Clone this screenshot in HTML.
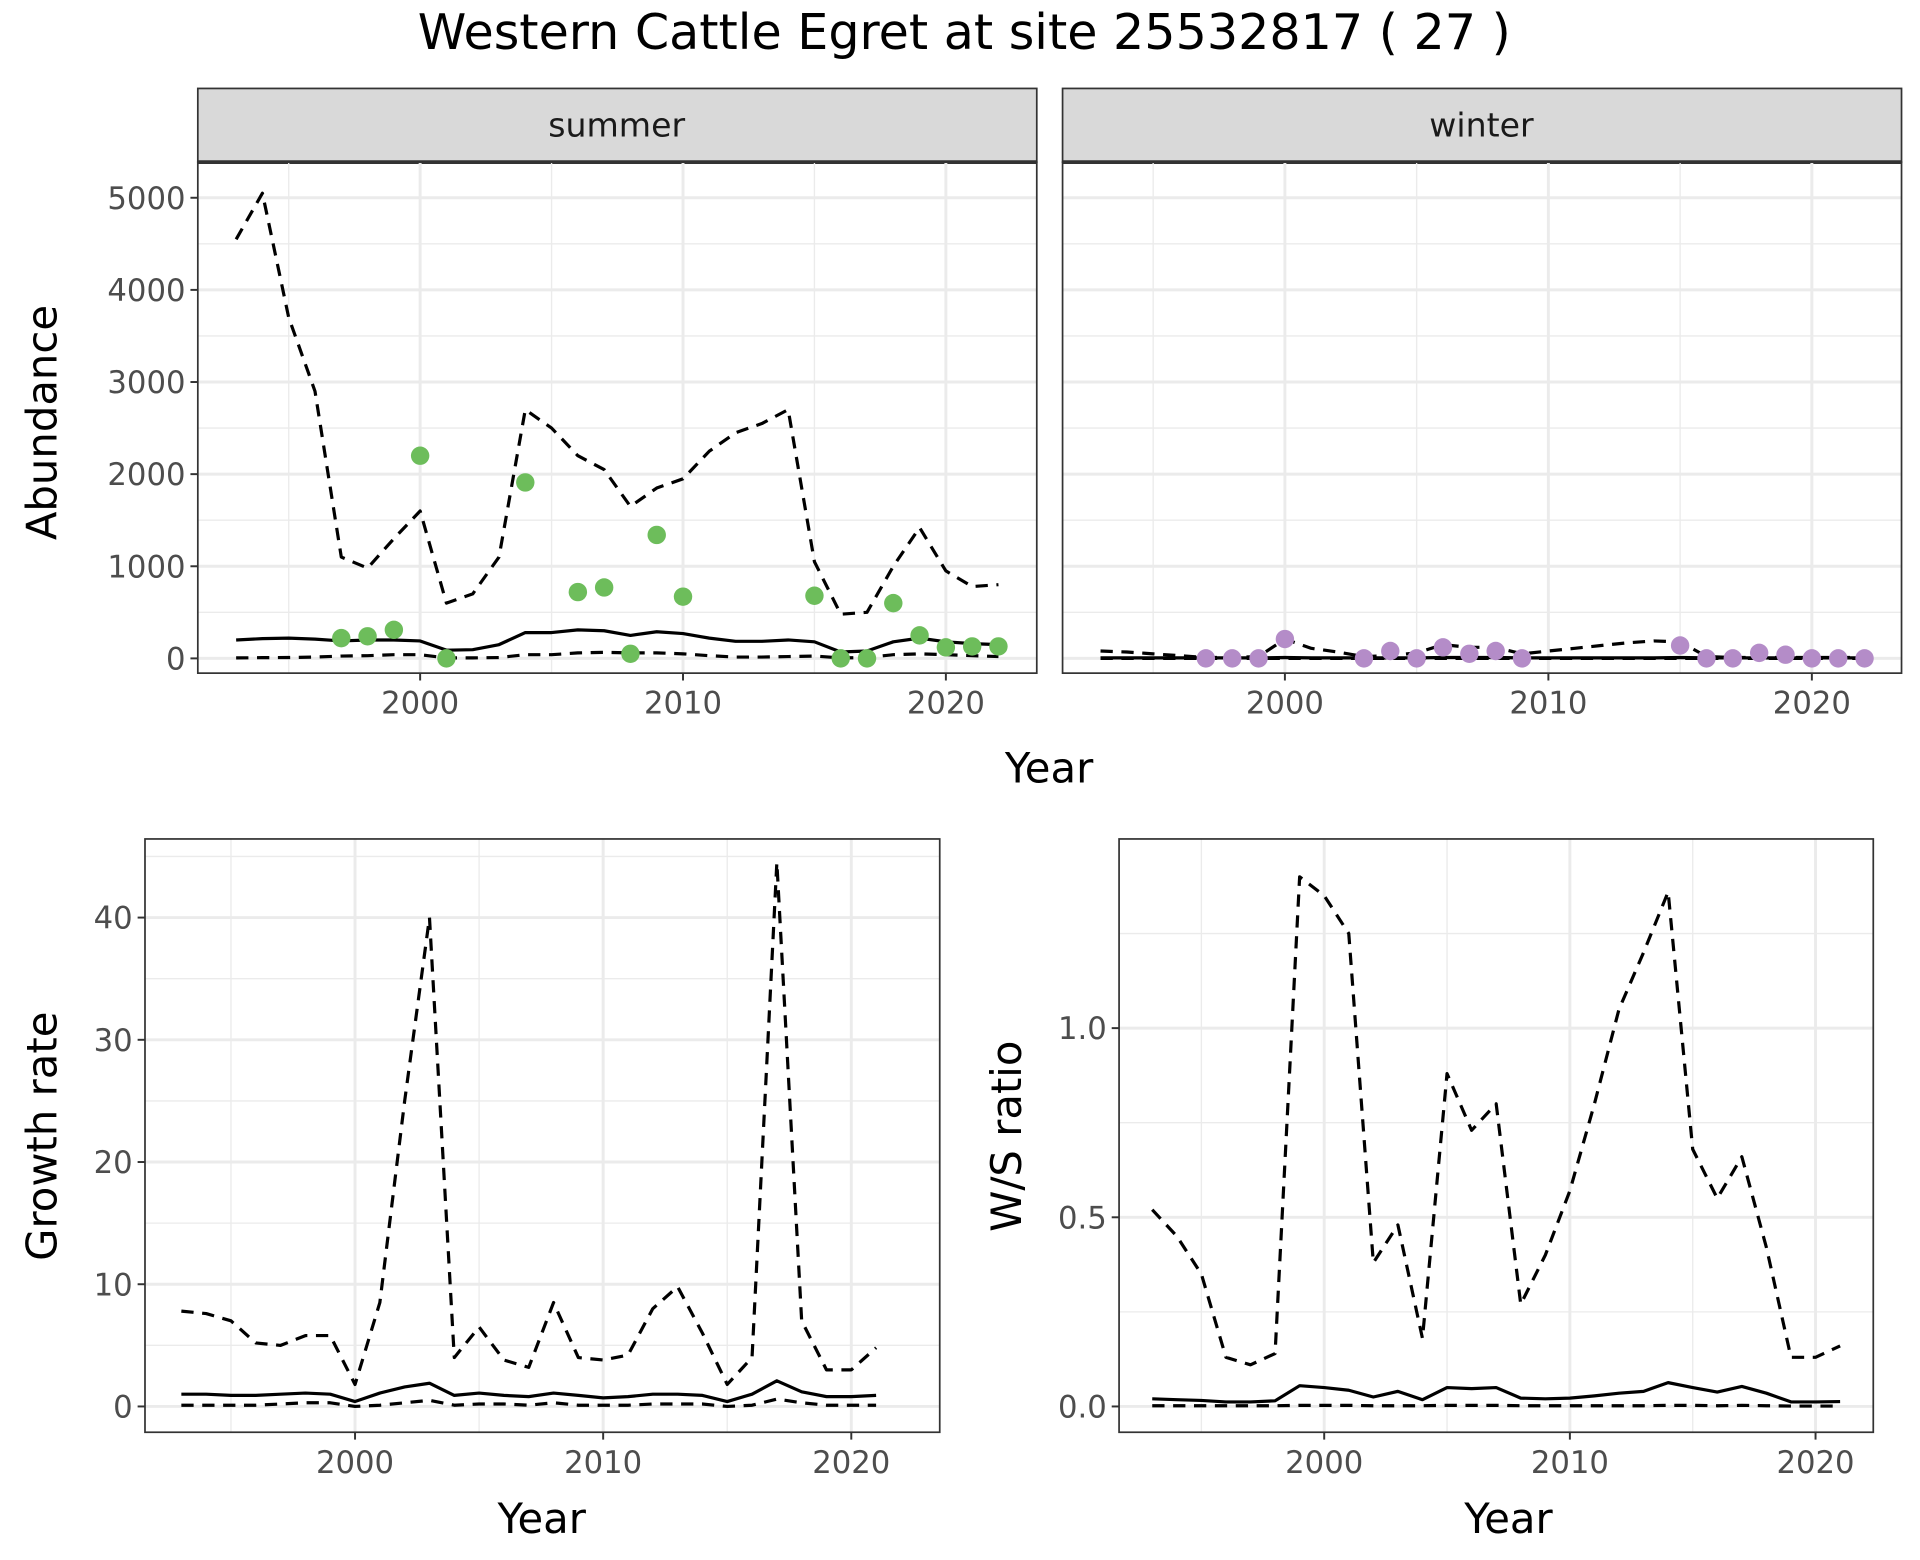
<!DOCTYPE html>
<html><head><meta charset="utf-8"><style>
html,body{margin:0;padding:0;background:#fff}
svg{display:block}
text{font-family:"DejaVu Sans","Liberation Sans",sans-serif}
</style></head><body>
<svg id="c" width="1920" height="1560" viewBox="0 0 1563 1270" xmlns="http://www.w3.org/2000/svg">
<text x="785" y="40" font-size="40" text-anchor="middle">Western Cattle Egret at site 25532817 ( 27 )</text>
<g id="g"></g>
</svg>
<script>
const yearsA = [1993,1994,1995,1996,1997,1998,1999,2000,2001,2002,2003,2004,2005,2006,2007,2008,2009,2010,2011,2012,2013,2014,2015,2016,2017,2018,2019,2020,2021,2022];
const sumUpper = [4550,5050,3700,2900,1100,980,1300,1600,600,700,1100,2700,2500,2200,2050,1650,1850,1950,2250,2450,2550,2700,1050,480,500,1000,1420,950,780,800];
const sumMid = [200,215,220,210,190,200,200,190,90,95,150,280,280,310,300,250,290,270,220,185,185,200,180,70,80,180,220,180,160,150];
const sumLower = [5,8,10,15,25,30,40,40,5,5,10,40,40,60,65,60,60,50,30,15,15,20,25,5,10,40,50,40,30,20];
const sumPtYears = [1997,1998,1999,2000,2001,2004,2006,2007,2008,2009,2010,2015,2016,2017,2018,2019,2020,2021,2022];
const sumPts = [220,240,310,2200,0,1910,720,770,50,1340,670,680,0,0,600,250,120,130,130];
const winUpper = [80,70,50,30,10,10,20,210,110,70,20,30,60,150,120,120,50,80,110,140,170,190,180,20,10,10,10,10,10,10];
const winMid = [5,5,5,5,5,5,5,10,5,5,5,5,5,10,10,10,5,5,5,5,5,5,10,5,5,5,5,5,5,5];
const winLower = [0,0,0,0,0,0,0,0,0,0,0,0,0,0,0,0,0,0,0,0,0,0,0,0,0,0,0,0,0,0];
const winPtYears = [1997,1998,1999,2000,2003,2004,2005,2006,2007,2008,2009,2015,2016,2017,2018,2019,2020,2021,2022];
const winPts = [0,0,0,210,0,80,0,120,50,80,0,140,0,0,60,40,0,0,0];
const yearsB = [1993,1994,1995,1996,1997,1998,1999,2000,2001,2002,2003,2004,2005,2006,2007,2008,2009,2010,2011,2012,2013,2014,2015,2016,2017,2018,2019,2020,2021];
const grUpper = [7.8,7.6,7.0,5.2,5.0,5.8,5.8,1.8,8.5,25,40,4,6.5,3.8,3.2,8.5,4,3.8,4.2,8,9.8,6,1.8,4,44.5,7,3,3,4.8];
const grMid = [1.0,1.0,0.9,0.9,1.0,1.1,1.0,0.4,1.1,1.6,1.9,0.9,1.1,0.9,0.8,1.1,0.9,0.7,0.8,1.0,1.0,0.9,0.4,1.0,2.1,1.2,0.8,0.8,0.9];
const grLower = [0.1,0.1,0.1,0.1,0.2,0.3,0.3,0,0.1,0.3,0.5,0.1,0.2,0.2,0.1,0.3,0.1,0.1,0.1,0.2,0.2,0.2,0,0.1,0.6,0.3,0.1,0.1,0.1];
const wsUpper = [0.52,0.45,0.35,0.13,0.11,0.14,1.40,1.35,1.25,0.38,0.48,0.18,0.88,0.73,0.80,0.27,0.40,0.57,0.80,1.05,1.20,1.36,0.68,0.55,0.66,0.42,0.13,0.13,0.16];
const wsMid = [0.02,0.018,0.016,0.012,0.012,0.015,0.055,0.05,0.043,0.025,0.04,0.018,0.05,0.047,0.05,0.022,0.02,0.022,0.028,0.035,0.04,0.063,0.05,0.038,0.053,0.035,0.012,0.012,0.013];
const wsLower = [0.002,0.002,0.002,0.002,0.002,0.002,0.003,0.003,0.003,0.002,0.002,0.002,0.003,0.003,0.003,0.002,0.002,0.002,0.002,0.002,0.002,0.003,0.003,0.002,0.003,0.002,0.001,0.001,0.001];
const xTicks = [2000,2010,2020];
const xMinor = [1995,2005,2015];
const abTicks = [0,1000,2000,3000,4000,5000];
const abMinor = [500,1500,2500,3500,4500];
const grTicks = [0,10,20,30,40];
const grMinor = [5,15,25,35,45];
const wsTicks = [0,0.5,1.0];
const wsTickLabels = ["0.0","0.5","1.0"];
const wsMinor = [0.25,0.75,1.25];

const NS="http://www.w3.org/2000/svg";
const G=document.getElementById('g');
function el(tag,attrs,parent){const e=document.createElementNS(NS,tag);for(const k in attrs)e.setAttribute(k,attrs[k]);(parent||G).appendChild(e);return e;}
function txt(s,attrs,parent){const e=el('text',attrs,parent);e.textContent=s;return e;}

function panel(o){
  const {x0,x1,y0,y1,xs,ys,name}=o;
  const grp=el('g',{});
  
  
  o.yMinor.forEach(v=>{const l=el('line',{x1:x0,x2:x1,y1:ys(v),y2:ys(v),stroke:'#ebebeb','stroke-width':1.1},grp);});
  xMinor.forEach(v=>{const l=el('line',{x1:xs(v),x2:xs(v),y1:y0,y2:y1,stroke:'#ebebeb','stroke-width':1.1},grp);});
  o.yTicks.forEach(v=>{const l=el('line',{x1:x0,x2:x1,y1:ys(v),y2:ys(v),stroke:'#ebebeb','stroke-width':2.4},grp);});
  xTicks.forEach(v=>{const l=el('line',{x1:xs(v),x2:xs(v),y1:y0,y2:y1,stroke:'#ebebeb','stroke-width':2.4},grp);});
  o.series.forEach(s=>{
    const d=s.vals.map((v,i)=>(i?'L':'M')+xs(s.years[i]).toFixed(1)+','+ys(v).toFixed(1)).join('');
    const p=el('path',{d:d,fill:'none',stroke:'#000','stroke-width':2.6,'stroke-dasharray':s.dash?'10,7':'none','stroke-linejoin':'round'},grp);
    
    
  });
  if(o.pts){o.pts.vals.forEach((v,i)=>{
    const c=el('circle',{cx:xs(o.pts.years[i]),cy:ys(v),r:7.5,fill:o.pts.color},grp);
    
    
  });}
  el('rect',{x:x0,y:y0,width:x1-x0,height:y1-y0,fill:'none',stroke:'#333','stroke-width':1.4},grp);
  if(o.showY){o.yTicks.forEach((v,i)=>{
    el('line',{x1:x0-6,x2:x0,y1:ys(v),y2:ys(v),stroke:'#333','stroke-width':1.6},grp);
    const t=txt(o.yLabels?o.yLabels[i]:String(v),{x:x0-10,y:ys(v)+9,'font-size':25,'text-anchor':'end',fill:'#4d4d4d'},grp);
    
  });}
  xTicks.forEach(v=>{
    el('line',{x1:xs(v),x2:xs(v),y1:y1,y2:y1+6,stroke:'#333','stroke-width':1.6},grp);
    const t=txt(String(v),{x:xs(v),y:y1+33,'font-size':25,'text-anchor':'middle',fill:'#4d4d4d'},grp);
    
  });
}
const sY=v=>536-v*0.075;
const sX=y=>342+(y-2000)*21.4;
const wX=y=>1046+(y-2000)*21.45;
[[161,'summer'],[865,'winter']].forEach(([x,l])=>{
  const r=el('rect',{x:x,y:72,width:683,height:60,fill:'#d9d9d9',stroke:'#333','stroke-width':1.4});
  
  el('line',{x1:x,x2:x+683,y1:132,y2:132,stroke:'#333','stroke-width':3});
  const t=txt(l,{x:x+341,y:111,'font-size':27,'text-anchor':'middle',fill:'#1a1a1a'});
  
});
panel({name:'summer',x0:161,x1:844,y0:132,y1:548,xs:sX,ys:sY,yTicks:abTicks,yMinor:abMinor,showY:true,
  series:[{years:yearsA,vals:sumUpper,dash:true,name:'summer-upper-ci'},{years:yearsA,vals:sumMid,dash:false,name:'summer-estimate'},{years:yearsA,vals:sumLower,dash:true,name:'summer-lower-ci'}],
  pts:{years:sumPtYears,vals:sumPts,color:'#6dbd5b'}});
panel({name:'winter',x0:865,x1:1548,y0:132,y1:548,xs:wX,ys:sY,yTicks:abTicks,yMinor:abMinor,showY:false,
  series:[{years:yearsA,vals:winUpper,dash:true,name:'winter-upper-ci'},{years:yearsA,vals:winMid,dash:false,name:'winter-estimate'},{years:yearsA,vals:winLower,dash:true,name:'winter-lower-ci'}],
  pts:{years:winPtYears,vals:winPts,color:'#b48cc8'}});
const gX=y=>289+(y-2000)*20.2;
const gY=v=>1145-v*9.95;
panel({name:'growth',x0:118,x1:765,y0:683,y1:1166,xs:gX,ys:gY,yTicks:grTicks,yMinor:grMinor,showY:true,
  series:[{years:yearsB,vals:grUpper,dash:true,name:'growth-upper-ci'},{years:yearsB,vals:grMid,dash:false,name:'growth-estimate'},{years:yearsB,vals:grLower,dash:true,name:'growth-lower-ci'}]});
const rX=y=>1078+(y-2000)*20;
const rY=v=>1145-v*308;
panel({name:'ws-ratio',x0:911,x1:1525,y0:683,y1:1166,xs:rX,ys:rY,yTicks:wsTicks,yLabels:wsTickLabels,yMinor:wsMinor,showY:true,
  series:[{years:yearsB,vals:wsUpper,dash:true,name:'ws-upper-ci'},{years:yearsB,vals:wsMid,dash:false,name:'ws-estimate'},{years:yearsB,vals:wsLower,dash:true,name:'ws-lower-ci'}]});
function title(s,x,y,rot,name){const t=txt(s,{x:x,y:y,'font-size':34,'text-anchor':'middle',fill:'#000',transform:rot?`rotate(-90 ${x} ${y})`:''});}
title('Abundance',46,344,true,'abundance-y-title');
title('Year',854,637,false,'top-x-title');
title('Growth rate',46,925,true,'growth-y-title');
title('Year',441,1248,false,'growth-x-title');
title('W/S ratio',831,925,true,'ws-y-title');
title('Year',1228,1248,false,'ws-x-title');
</script>
</body></html>
